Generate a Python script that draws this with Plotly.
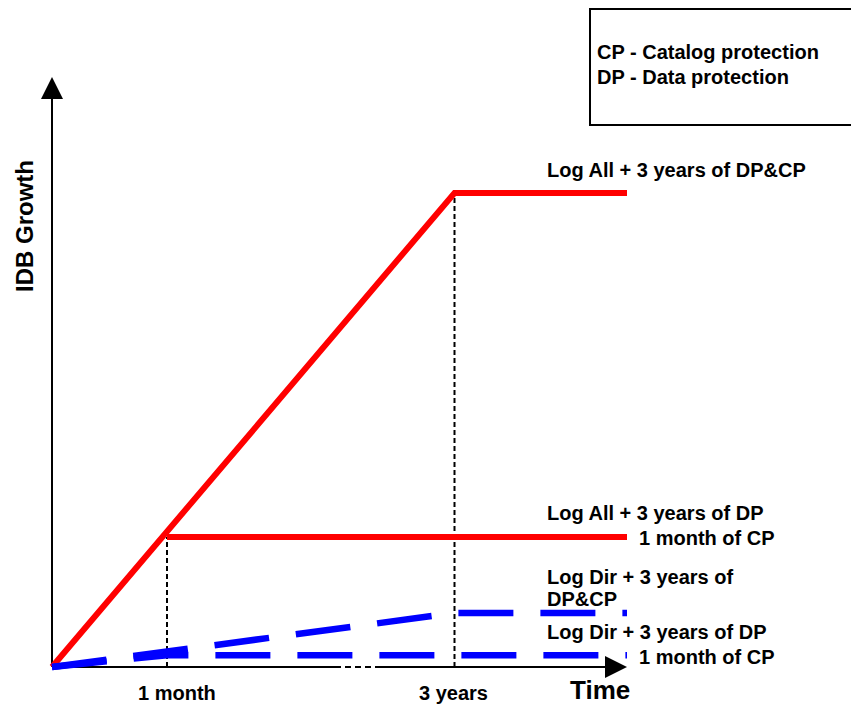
import plotly.graph_objects as go

# ---- data (schematic units) ----
# time positions: 0 = start, 1 = "1 month", 3.5 = "3 years", 5 = end of drawing
tick_pos = [1, 3.5]
tick_labels = ["1 month", "3 years"]

x_logall_dpcp = [0, 3.5, 5.0]
y_logall_dpcp = [0, 100, 100]

x_logall_dp = [1, 5.0]
y_logall_dp = [27.4, 27.4]

x_logdir_dpcp = [0, 3.5, 5.0]
y_logdir_dpcp = [0, 11.4, 11.4]

x_logdir_dp = [0, 1, 5.0]
y_logdir_dp = [0, 2.5, 2.5]

series_labels = [
    ("Log All + 3 years of DP&CP", 548, 170),
    ("Log All + 3 years of DP", 548, 513),
    ("1 month of CP", 640, 538),
    ("Log Dir + 3 years of", 548, 577),
    ("DP&CP", 548, 599),
    ("Log Dir + 3 years of DP", 548, 632),
    ("1 month of CP", 640, 657),
]

# ---- pixel mapping for layout (page has an 8px body margin) ----
OFF = 8
W, H = 859 - OFF, 708 - OFF
X0_PX, Y0_PX = 52 - OFF, 667 - OFF
SX, SY = 115.0, 4.74
xr = [(0 - X0_PX) / SX, (W - X0_PX) / SX]
yr = [(Y0_PX - H) / SY, Y0_PX / SY]

def px(x):
    return (x - OFF) / W

def py(y):
    return 1 - (y - OFF) / H

def dx(x):
    return (x - OFF - X0_PX) / SX

def dy(y):
    return (Y0_PX - (y - OFF)) / SY

FONT = "Liberation Sans, Arial, sans-serif"
RED = "#ff0000"
BLUE = "#0000ff"

fig = go.Figure()

line_common = dict(mode="lines", hoverinfo="skip", showlegend=False)
fig.add_trace(go.Scatter(x=x_logall_dpcp, y=y_logall_dpcp, line=dict(color=RED, width=6), **line_common))
fig.add_trace(go.Scatter(x=x_logall_dp, y=y_logall_dp, line=dict(color=RED, width=6), **line_common))
fig.add_trace(go.Scatter(x=x_logdir_dp, y=y_logdir_dp, line=dict(color=BLUE, width=6.5, dash="55px,27px"), **line_common))
fig.add_trace(go.Scatter(x=x_logdir_dpcp, y=y_logdir_dpcp, line=dict(color=BLUE, width=6.5, dash="55px,27px"), **line_common))

shapes = []
# vertical dashed guide lines
shapes.append(dict(type="line", xref="x", yref="y", x0=tick_pos[0], x1=tick_pos[0], y0=0, y1=y_logall_dp[0],
                   line=dict(color="black", width=2, dash="5px,3px"), layer="below"))
shapes.append(dict(type="line", xref="x", yref="y", x0=tick_pos[1], x1=tick_pos[1], y0=0, y1=y_logall_dpcp[1],
                   line=dict(color="black", width=2, dash="5px,3px"), layer="below"))
# x-axis line
shapes.append(dict(type="line", xref="x", yref="y", x0=0, x1=dx(608), y0=0, y1=0,
                   line=dict(color="black", width=2), layer="below"))
# axis break
bx0, bx1 = dx(335), dx(378)
shapes.append(dict(type="line", xref="x", yref="y", x0=bx0, x1=bx1, y0=0, y1=0,
                   line=dict(color="white", width=3), layer="below"))
shapes.append(dict(type="line", xref="x", yref="y", x0=bx0, x1=bx1, y0=0, y1=0,
                   line=dict(color="black", width=2, dash="6px,4px"), layer="below"))
# y-axis line
shapes.append(dict(type="line", xref="x", yref="y", x0=0, x1=0, y0=0, y1=dy(95),
                   line=dict(color="black", width=2), layer="below"))
# legend box
shapes.append(dict(type="rect", xref="paper", yref="paper", x0=px(590), x1=px(864), y0=py(125), y1=py(9),
                   line=dict(color="black", width=2), fillcolor="white"))

annotations = []
# axis arrows
annotations.append(dict(x=dx(627), y=0, ax=dx(600), ay=0, xref="x", yref="y",
                        axref="x", ayref="y", showarrow=True, arrowhead=2, arrowsize=2.2, arrowwidth=2,
                        arrowcolor="black", text=""))
annotations.append(dict(x=0, y=dy(77), ax=0, ay=dy(105), xref="x", yref="y",
                        axref="x", ayref="y", showarrow=True, arrowhead=2, arrowsize=2.2, arrowwidth=2,
                        arrowcolor="black", text=""))
# tick labels (label centres as drawn in the reference)
tick_label_px = [177, 453]
for lx, tl in zip(tick_label_px, tick_labels):
    annotations.append(dict(x=px(lx), y=py(693), xref="paper", yref="paper", text=f"<b>{tl}</b>", showarrow=False,
                            xanchor="center", yanchor="middle", font=dict(family=FONT, size=20, color="black")))
annotations.append(dict(x=px(600), y=py(690), xref="paper", yref="paper", text="<b>Time</b>", showarrow=False,
                        xanchor="center", yanchor="middle", font=dict(family=FONT, size=26, color="black")))
annotations.append(dict(x=px(25), y=py(226), xref="paper", yref="paper", text="<b>IDB Growth</b>", showarrow=False,
                        textangle=-90, xanchor="center", yanchor="middle",
                        font=dict(family=FONT, size=24, color="black")))
for txt, lx, ly in series_labels:
    annotations.append(dict(x=px(lx), y=py(ly), xref="paper", yref="paper", text=f"<b>{txt}</b>", showarrow=False,
                            xanchor="left", yanchor="middle", xshift=-3,
                            font=dict(family=FONT, size=20, color="black")))
annotations.append(dict(x=px(598), y=py(52), xref="paper", yref="paper", text="<b>CP - Catalog protection</b>",
                        showarrow=False, xanchor="left", yanchor="middle", xshift=-3,
                        font=dict(family=FONT, size=20, color="black")))
annotations.append(dict(x=px(598), y=py(77), xref="paper", yref="paper", text="<b>DP - Data protection</b>",
                        showarrow=False, xanchor="left", yanchor="middle", xshift=-3,
                        font=dict(family=FONT, size=20, color="black")))

fig.update_layout(
    width=W, height=H,
    margin=dict(l=0, r=0, t=0, b=0),
    paper_bgcolor="white", plot_bgcolor="white",
    xaxis=dict(range=xr, visible=False, fixedrange=True),
    yaxis=dict(range=yr, visible=False, fixedrange=True),
    shapes=shapes, annotations=annotations,
    showlegend=False,
)

fig.write_html("out.html", config={"displayModeBar": False})
